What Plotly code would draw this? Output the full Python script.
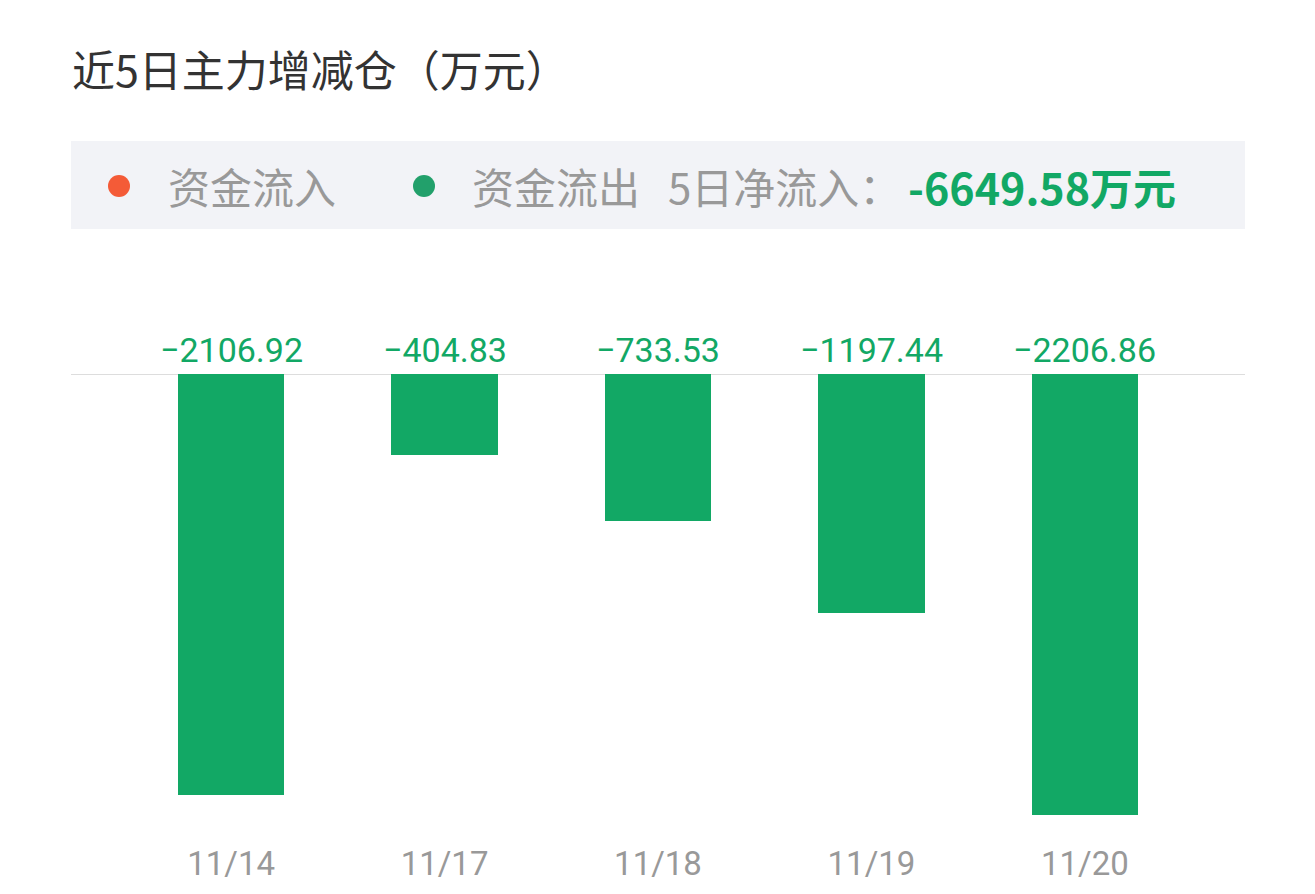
import plotly.graph_objects as go

# data
dates = ["11/14", "11/17", "11/18", "11/19", "11/20"]
flows = [-2106.92, -404.83, -733.53, -1197.44, -2206.86]

title_text = "近5日主力增减仓（万元）"
legend_in = "资金流入"
legend_out = "资金流出"
net_label = "5日净流入："

GREEN = "#12A865"
RED = "#F45B37"
DOT_GREEN = "#22A06B"
GRAY = "#999999"
CJK = "Noto Sans CJK SC"
NUM = "Roboto"

# page body adds an 8px margin, so shift the layout back by that much
OFF = 8
W, H = 1315, 894
L, T = 71 - OFF, 374 - OFF
R, B = W - (1245 - OFF), H - (815 - OFF)
plot_h = H - T - B


def py(ypx):
    """pixel row in the reference -> paper y"""
    return (H - B - (ypx - OFF)) / plot_h


def px(xpx):
    """pixel column in the reference -> paper x"""
    return (xpx - OFF - L) / (W - L - R)


net = sum(flows)

fig = go.Figure()
fig.add_trace(go.Bar(
    x=list(range(len(dates))),
    y=flows,
    width=0.5,
    marker=dict(color=GREEN, line=dict(width=0)),
    hoverinfo="x+y",
))

annotations = []
for i, v in enumerate(flows):
    annotations.append(dict(
        x=i, y=0, xref="x", yref="y",
        text=f"{v:.2f}".replace("-", "−"),
        showarrow=False, yanchor="bottom", yshift=2,
        font=dict(family=NUM, size=34, color=GREEN),
    ))

# title
annotations.append(dict(
    x=px(70), y=py(68), xref="paper", yref="paper",
    text=title_text, showarrow=False, xanchor="left", yanchor="middle",
    font=dict(family=CJK, size=43, color="#333333"),
))

# legend strip
legend_y = py(186)
annotations += [
    dict(x=px(166), y=legend_y, text=legend_in, xanchor="left"),
    dict(x=px(470), y=legend_y, text=legend_out, xanchor="left"),
    dict(x=px(666), y=legend_y, text=net_label, xanchor="left"),
]
for a in annotations[-3:]:
    a.update(xref="paper", yref="paper", showarrow=False, yanchor="middle",
             font=dict(family=CJK, size=42, color=GRAY))
annotations.append(dict(
    x=px(906), y=legend_y, xref="paper", yref="paper",
    text=f"<b>{net:.2f}万元</b>", showarrow=False, xanchor="left", yanchor="middle",
    font=dict(family=CJK, size=43, color=GREEN),
))

shapes = [
    dict(type="rect", xref="paper", yref="paper",
         x0=0, x1=1, y0=py(229), y1=py(141),
         fillcolor="#F2F3F7", line=dict(width=0), layer="below"),
    dict(type="circle", xref="paper", yref="paper",
         x0=px(108), x1=px(130), y0=py(197), y1=py(175),
         fillcolor=RED, line=dict(width=0)),
    dict(type="circle", xref="paper", yref="paper",
         x0=px(413), x1=px(435), y0=py(197), y1=py(175),
         fillcolor=DOT_GREEN, line=dict(width=0)),
    dict(type="line", xref="paper", yref="y",
         x0=0, x1=1, y0=0, y1=0,
         line=dict(color="#DDDDDD", width=2), layer="below"),
]

fig.update_layout(
    width=W, height=H,
    margin=dict(l=L, r=R, t=T, b=B),
    paper_bgcolor="white", plot_bgcolor="white",
    showlegend=False,
    bargap=0,
    annotations=annotations,
    shapes=shapes,
    xaxis=dict(
        tickmode="array", tickvals=list(range(len(dates))), ticktext=dates,
        range=[-0.75, len(dates) - 0.25],
        showgrid=False, zeroline=False, showline=False, ticks="",
        tickfont=dict(family=NUM, size=33, color=GRAY),
        ticklabelstandoff=26, fixedrange=True,
    ),
    yaxis=dict(
        range=[min(flows), 0],
        showgrid=False, zeroline=False, showline=False,
        showticklabels=False, ticks="", fixedrange=True,
    ),
)

fig.write_html("out.html")
